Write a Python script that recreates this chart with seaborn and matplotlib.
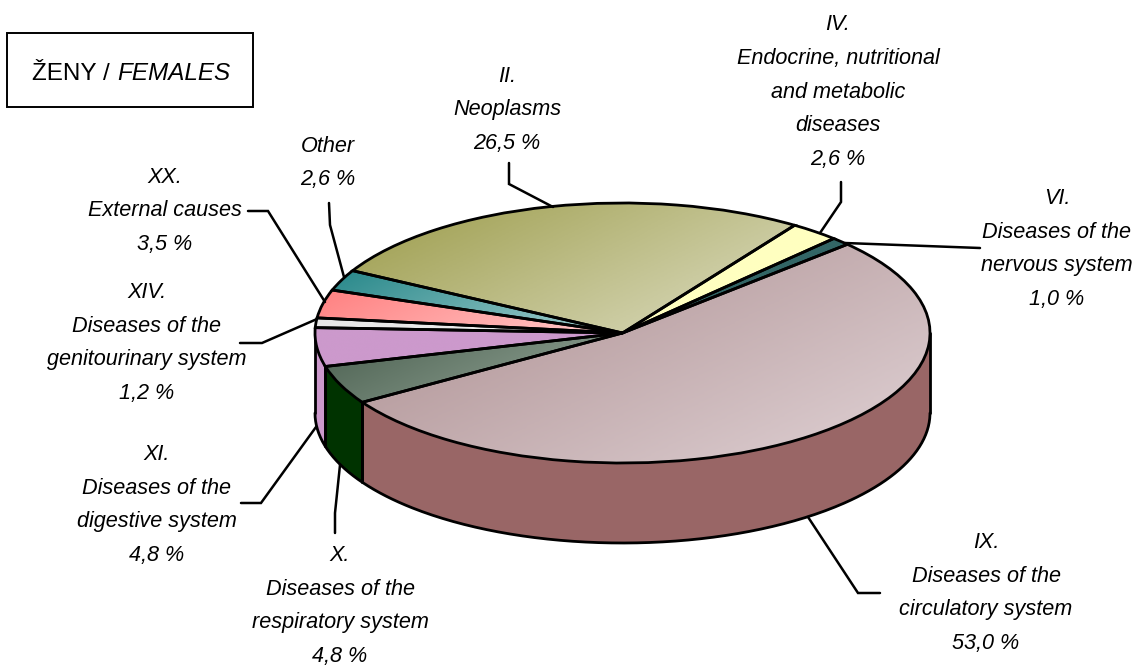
# 3D looking pie chart of causes of death, females

import numpy as np
import seaborn as sns
import matplotlib.pyplot as plt

labels = ["IX.\nDiseases of the\ncirculatory system\n53,0 %",
          "X.\nDiseases of the\nrespiratory system\n4,8 %",
          "XI.\nDiseases of the\ndigestive system\n4,8 %",
          "XIV.\nDiseases of the\ngenitourinary system\n1,2 %",
          "XX.\nExternal causes\n3,5 %",
          "Other\n2,6 %",
          "II.\nNeoplasms\n26,5 %",
          "IV.\nEndocrine, nutritional\nand metabolic\ndiseases\n2,6 %",
          "VI.\nDiseases of the\nnervous system\n1,0 %"]
values = [53.0, 4.8, 4.8, 1.2, 3.5, 2.6, 26.5, 2.6, 1.0]

top_dark = ["#a98a8c", "#4a5f4f", "#cc99cc", "#e6e6e6", "#ff8080", "#27888a", "#9c9c4a", "#ffffc0", "#336666"]
top_light = ["#e0d2d5", "#98aa9c", "#cc99cc", "#f2f2f2", "#ffcccc", "#a8d0d0", "#dedec4", "#ffffc0", "#336666"]
wall_colors = ["#996666", "#003300", "#cc99cc", "#e6e6e6", "#ff8080", "#27888a", "#9f9f50", "#ffffc0", "#336666"]

# label centres and leader lines, in pixels of the picture
label_xy = [(986, 593), (340, 606), (157, 505), (147, 343), (165, 211),
            (328, 163), (507, 110), (838, 92), (1057, 249)]
leaders = [[(808, 517), (858, 593), (880, 593)],
           [(340, 465), (335, 513), (335, 533)],
           [(316, 427), (261, 503), (241, 503)],
           [(317, 319), (262, 343), (240, 343)],
           [(325, 302), (268, 211), (248, 211)],
           [(344, 277), (330, 225), (329, 203)],
           [(553, 207), (509, 184), (509, 163)],
           [(820, 233), (841, 202), (841, 182)],
           [(845, 243), (980, 248)]]

W, H = 1137, 670
cx, cy, rx, ry, depth = 622.5, 333, 307.5, 130, 80
start = 43
lw = 2.0

sns.set_theme(style="white")
plt.rcParams['font.family'] = ['Liberation Sans', 'DejaVu Sans']

fig = plt.figure(figsize=(W / 100, H / 100), dpi=100)
ax = fig.add_axes([0, 0, 1, 1])

wedges, _ = ax.pie(values, startangle=start, counterclock=False, radius=1, center=(0, 0),
                   colors=top_dark, wedgeprops=dict(edgecolor="black", linewidth=lw))
ax.set_aspect('auto')
xlim = (-cx / rx, (W - cx) / rx)
ylim = ((cy - H) / ry, cy / ry)
d = depth / ry

# side wall, only the front half of the ellipse shows
edges = start - np.cumsum([0] + values) * 3.6
for i in range(len(values)):
    a0, a1 = edges[i + 1], edges[i]
    a0 = max(a0, -180)
    a1 = min(a1, 0)
    if a1 <= a0:
        continue
    t = np.radians(np.linspace(a0, a1, 100))
    ax.fill_between(np.cos(t), np.sin(t), np.sin(t) - d, color=wall_colors[i], lw=0, zorder=1)
    ax.plot([np.cos(t[0])] * 2, [np.sin(t[0]), np.sin(t[0]) - d], color="black", lw=lw, zorder=2,
            solid_capstyle="round")
    ax.plot([np.cos(t[-1])] * 2, [np.sin(t[-1]), np.sin(t[-1]) - d], color="black", lw=lw, zorder=2,
            solid_capstyle="round")
t = np.radians(np.linspace(-180, 0, 300))
ax.plot(np.cos(t), np.sin(t) - d, color="black", lw=lw, zorder=2, solid_capstyle="round")

# gradient on each slice, clipped to the wedge
for i, w in enumerate(wedges):
    w.set_zorder(4)
    w.set_facecolor("none")
    box = w.get_path().get_extents(w.get_patch_transform())
    wpx, hpx = box.width * rx * 0.5, box.height * ry
    u = np.linspace(0, 1, 128)
    grid = (u[None, :] * wpx + u[:, None] * hpx) / (wpx + hpx)
    cmap = sns.blend_palette([top_dark[i], top_light[i]], as_cmap=True)
    im = ax.imshow(grid, cmap=cmap, extent=(box.x0, box.x1, box.y0, box.y1), origin="upper",
                   aspect="auto", zorder=3, vmin=0, vmax=1)
    im.set_clip_path(w)
ax.set_xlim(xlim)
ax.set_ylim(ylim)
ax.set_axis_off()

# overlay in pixels for the texts and leader lines
over = fig.add_axes([0, 0, 1, 1], facecolor="none")
over.set_xlim(0, W)
over.set_ylim(H, 0)
over.set_axis_off()

for lab, (x, y), pts in zip(labels, label_xy, leaders):
    over.text(x, y, lab, ha="center", va="center", style="italic", fontsize=15.6,
              color="black", linespacing=1.8)
    over.plot([p[0] for p in pts], [p[1] for p in pts], color="black", lw=1.8, zorder=1,
              solid_joinstyle="miter")

over.add_patch(plt.Rectangle((7, 33), 246, 74, facecolor="white", edgecolor="black", lw=1.4))
over.text(116, 80, "ŽENY / ", ha="right", va="baseline", fontsize=17.5, color="black")
over.text(117, 80, "FEMALES", ha="left", va="baseline", style="italic", fontsize=17.5, color="black")

fig.savefig("out.png", dpi=100)
